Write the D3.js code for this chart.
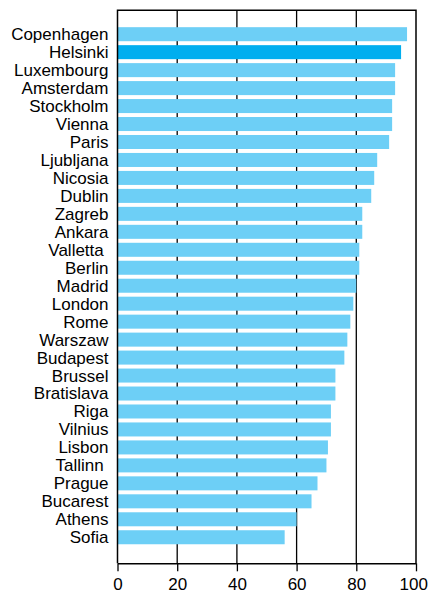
<!DOCTYPE html>
<html>
<head>
<meta charset="utf-8">
<script src="https://cdn.jsdelivr.net/npm/d3@7"></script>
<style>
  body { margin: 0; background: #fff; }
  text { font-family: "Liberation Sans", Arial, sans-serif; fill: #000; }
</style>
</head>
<body>
<svg id="chart" width="428" height="593"></svg>
<script>
const cities = ["Copenhagen", "Helsinki", "Luxembourg", "Amsterdam", "Stockholm", "Vienna", "Paris",
  "Ljubljana", "Nicosia", "Dublin", "Zagreb", "Ankara", "Valletta ", "Berlin", "Madrid", "London",
  "Rome", "Warszaw", "Budapest", "Brussel", "Bratislava", "Riga", "Vilnius", "Lisbon", "Tallinn ",
  "Prague", "Bucarest", "Athens", "Sofia"];
const values = [97, 95, 93, 93, 92, 92, 91, 87, 86, 85, 82, 82, 81, 81, 80, 79,
  78, 77, 76, 73, 73, 71.5, 71.5, 70.5, 70, 67, 65, 60, 56];
const highlight = "Helsinki";
const xTicks = [0, 20, 40, 60, 80, 100];

const svg = d3.select("#chart");
const plotLeft = 117.5, plotRight = 416, plotTop = 10.3, plotBottom = 563.3;

const x = d3.scaleLinear().domain([0, 100]).range([plotLeft, plotRight]);
const y = d3.scaleBand().domain(cities).range([plotTop, plotBottom])
  .paddingInner(0.22).paddingOuter(1.0).align(0.47);

// gridlines behind bars
svg.append("g")
  .selectAll("line")
  .data(xTicks.slice(1, -1))
  .join("line")
  .attr("x1", (d) => x(d))
  .attr("x2", (d) => x(d))
  .attr("y1", plotTop)
  .attr("y2", plotBottom)
  .attr("stroke", "#000")
  .attr("stroke-width", 1.3);

svg.append("g")
  .selectAll("rect")
  .data(cities)
  .join("rect")
  .attr("x", x(0))
  .attr("y", (c) => y(c))
  .attr("width", (c, i) => x(values[i]) - x(0))
  .attr("height", y.bandwidth())
  .attr("fill", (c) => (c === highlight ? "#00aeef" : "#6dcff6"));

// frame
svg.append("path")
  .attr("d", `M${plotLeft},${plotBottom}V${plotTop}H${plotRight}V${plotBottom}`)
  .attr("fill", "none")
  .attr("stroke", "#000")
  .attr("stroke-width", 1.5);

const xAxis = svg.append("g")
  .attr("transform", `translate(0,${plotBottom})`)
  .call(d3.axisBottom(x).tickValues(xTicks).tickSize(8).tickSizeOuter(0).tickPadding(7));
xAxis.select(".domain").attr("stroke", "#000").attr("stroke-width", 1.5);
xAxis.selectAll(".tick line").attr("stroke", "#000").attr("stroke-width", 1.3);
xAxis.selectAll(".tick text")
  .attr("font-family", "Liberation Sans, Arial, sans-serif")
  .attr("font-size", "17px")
  .attr("fill", "#000")
  .attr("dx", (d) => (d === 100 ? -2.8 : 0));

svg.append("g")
  .selectAll("text")
  .data(cities)
  .join("text")
  .attr("x", 108.5)
  .attr("y", (c) => y(c) + y.bandwidth() / 2)
  .attr("dy", "0.35em")
  .attr("text-anchor", "end")
  .attr("font-size", "17px")
  .style("white-space", "pre")
  .text((c) => c);
</script>
</body>
</html>
